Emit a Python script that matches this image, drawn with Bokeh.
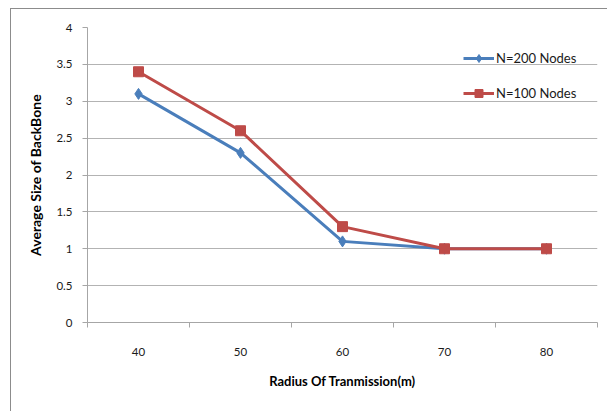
from bokeh.plotting import figure
from bokeh.models import Range1d, FixedTicker, Legend, LegendItem
from bokeh.embed import file_html
from bokeh.resources import INLINE

# Data
radius = [40, 50, 60, 70, 80]
n200 = [3.1, 2.3, 1.1, 1.0, 1.0]
n100 = [3.4, 2.6, 1.3, 1.0, 1.0]
y_ticks = [0, 0.5, 1, 1.5, 2, 2.5, 3, 3.5, 4]
y_tick_labels = ["0", "0.5", "1", "1.5", "2", "2.5", "3", "3.5", "4"]
series_names = ["N=200 Nodes", "N=100 Nodes"]

BLUE = "#4A7EBB"
RED = "#BE4B48"
FONT = "Lato"

p = figure(width=597, height=403, output_backend="svg", toolbar_location=None,
           x_range=Range1d(35, 85), y_range=Range1d(0, 4),
           min_border_left=76, min_border_right=11, min_border_top=18,
           min_border_bottom=90)
p.margin = (8, 0, 0, 10)
p.styles = {"border-left": "1px solid #8C8C8C", "border-top": "1px solid #8C8C8C"}
p.outline_line_color = None
p.background_fill_color = "white"
p.border_fill_color = "white"

# x axis
half = (radius[1] - radius[0]) / 2
p.xaxis.ticker = FixedTicker(ticks=radius,
                             minor_ticks=[r - half for r in radius] + [radius[-1] + half])
p.xaxis.major_tick_line_color = None
p.xaxis.minor_tick_line_color = "#A6A6A6"
p.xaxis.minor_tick_out = 5
p.xaxis.minor_tick_in = 0
p.xaxis.axis_line_color = "#A6A6A6"
p.xaxis.major_label_standoff = 19
p.xaxis.major_label_text_font = FONT
p.xaxis.major_label_text_font_size = "11.5px"
p.xaxis.major_label_text_color = "#1a1a1a"
p.xaxis.axis_label = "Radius Of Tranmission(m)"
p.xaxis.axis_label_text_font = FONT
p.xaxis.axis_label_text_font_size = "13px"
p.xaxis.axis_label_text_font_style = "bold"
p.xaxis.axis_label_text_color = "black"
p.xaxis.axis_label_standoff = 14

# y axis
p.yaxis.ticker = FixedTicker(ticks=y_ticks)
p.yaxis.major_label_overrides = {t: l for t, l in zip(y_ticks, y_tick_labels)}
p.yaxis.minor_tick_line_color = None
p.yaxis.major_tick_line_color = "#A6A6A6"
p.yaxis.major_tick_out = 5
p.yaxis.major_tick_in = 0
p.yaxis.axis_line_color = "#A6A6A6"
p.yaxis.major_label_standoff = 10
p.yaxis.major_label_text_font = FONT
p.yaxis.major_label_text_font_size = "11.5px"
p.yaxis.major_label_text_color = "#1a1a1a"
p.yaxis.axis_label = "Average Size of BackBone"
p.yaxis.axis_label_text_font = FONT
p.yaxis.axis_label_text_font_size = "14px"
p.yaxis.axis_label_text_font_style = "bold"
p.yaxis.axis_label_text_color = "black"
p.yaxis.axis_label_standoff = 9

# grid
p.xgrid.grid_line_color = None
p.ygrid.ticker = FixedTicker(ticks=y_ticks)
p.ygrid.grid_line_color = "#B3B3B3"
p.ygrid.grid_line_width = 1

# series
l1 = p.line(radius, n200, line_color=BLUE, line_width=3)
s1 = p.scatter(radius, n200, marker="diamond", size=11, fill_color=BLUE, line_color=BLUE)
l2 = p.line(radius, n100, line_color=RED, line_width=3)
s2 = p.scatter(radius, n100, marker="square", size=10, fill_color=RED, line_color=RED)

legend = Legend(items=[LegendItem(label=series_names[0], renderers=[l1, s1]),
                       LegendItem(label=series_names[1], renderers=[l2, s2])],
                location=(376, 219), padding=0, margin=0, spacing=15,
                glyph_width=31, glyph_height=20, label_height=20,
                label_standoff=2, border_line_color=None,
                background_fill_alpha=0,
                label_text_font=FONT, label_text_font_size="13px",
                label_text_color="#1a1a1a")
p.add_layout(legend)

open("out.html", "w").write(file_html(p, INLINE))
